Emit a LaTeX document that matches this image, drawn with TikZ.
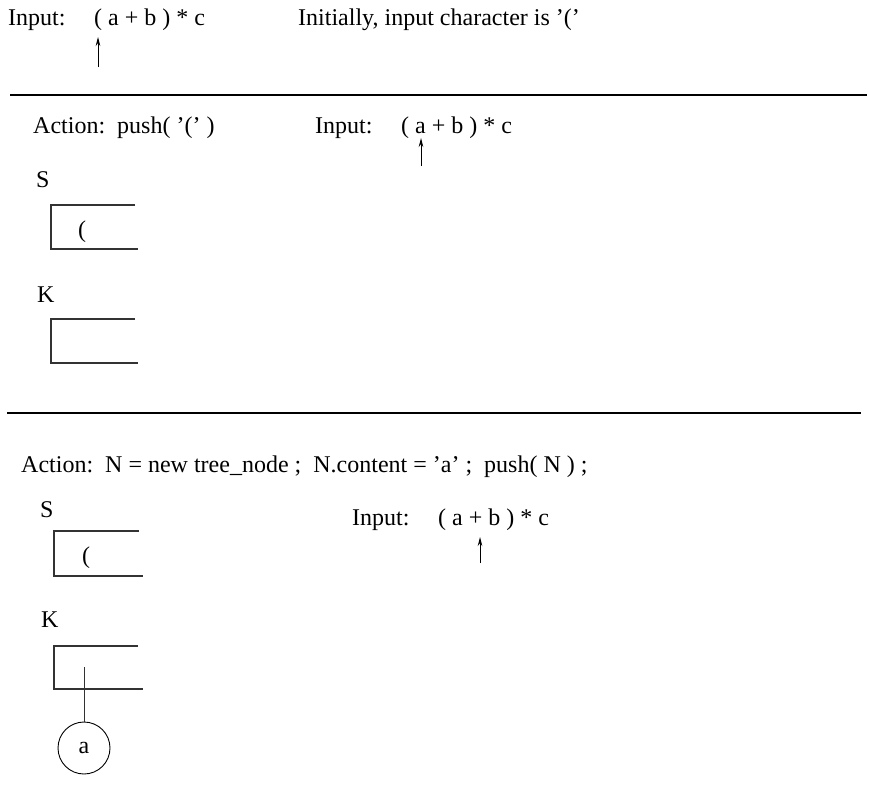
\documentclass[tikz,border=0pt]{standalone}
\usepackage{fontspec}
\setmainfont{Liberation Serif}
\usetikzlibrary{arrows.meta}

\begin{document}
\begin{tikzpicture}[x=1pt, y=-1pt,
    every node/.style={font=\fontsize{24}{28}\selectfont, inner sep=0pt, anchor=base west},
    rule/.style={line width=1.4pt},
    stack/.style={line width=1.2pt, draw=black!80},
    ptr/.style={line width=0.9pt, -{Stealth[length=9pt, width=4.5pt]}},
    tnode/.style={draw, circle, minimum size=52pt, anchor=center, line width=0.9pt}]

    \useasboundingbox (0,0) rectangle (869,803);

    % === Initial state ===
    \node (in0) at (8,25) {Input:};
    \node (ex0) at (94,25) {( a + b ) * c};
    \node (note0) at (298,25) {Initially, input character is ’(’};
    \coordinate (p0t) at (98,67);
    \coordinate (p0h) at (98,37);
    \draw[ptr] (p0t) -- (p0h);

    \draw[rule] (10,95) -- (867,95);

    % === Step 1: push '(' ===
    \node (act1) at (33,133) {Action:\ \ push( ’(’ )};
    \node (in1) at (315,133) {Input:};
    \node (ex1) at (401,133) {( a + b ) * c};
    \coordinate (p1t) at (421,166);
    \coordinate (p1h) at (421,138);
    \draw[ptr] (p1t) -- (p1h);

    % stack S
    \node (s1) at (36,187) {S};
    \draw[stack] (135,205) -- (51,205) -- (51,249) -- (138,249);
    \node (s1top) at (78,237) {(};
    % stack K
    \node (k1) at (37,302) {K};
    \draw[stack] (135,319) -- (51,319) -- (51,363) -- (138,363);

    \draw[rule] (7,413) -- (861,413);

    % === Step 2: read 'a' ===
    \node (act2) at (21,472) {Action:\ \ N = new tree\_node ;\ \ N.content = ’a’ ;\ \ push( N ) ;};
    \node (in2) at (352,525) {Input:};
    \node (ex2) at (438,525) {( a + b ) * c};
    \coordinate (p2t) at (480,563);
    \coordinate (p2h) at (480,537);
    \draw[ptr] (p2t) -- (p2h);

    % stack S
    \node (s2) at (40,517) {S};
    \draw[stack] (139,531) -- (54,531) -- (54,576) -- (143,576);
    \node (s2top) at (82,563) {(};
    % stack K
    \node (k2) at (41,627) {K};
    \draw[stack] (138,646) -- (54,646) -- (54,689) -- (143,689);
    \coordinate (k2top) at (84,667);
    \node[tnode] (na) at (84,748) {a};
    \draw[line width=0.9pt, draw=black!80] (k2top) -- (na);

\end{tikzpicture}
\end{document}
